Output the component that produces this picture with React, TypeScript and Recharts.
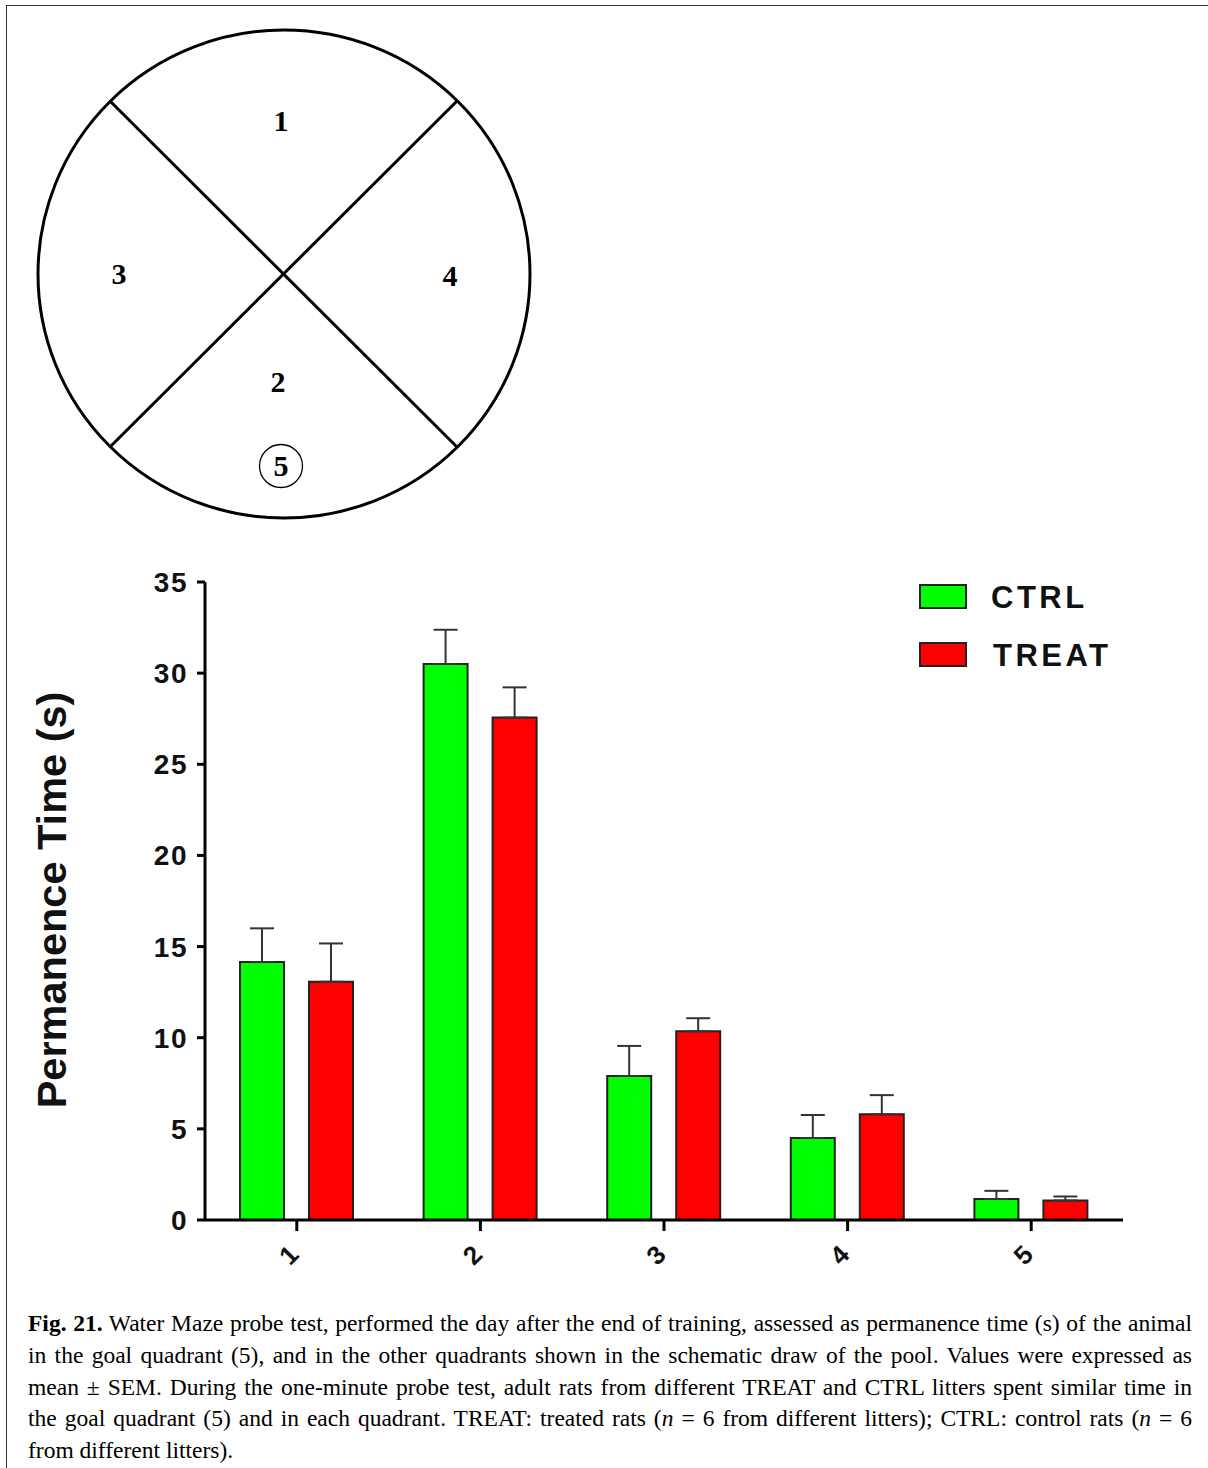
import React from 'react';
import { BarChart, Bar, XAxis, YAxis, ErrorBar, Legend } from 'recharts';

const quadrants = ['1', '2', '3', '4', '5'];
const ctrlMean = [14.15, 30.5, 7.9, 4.5, 1.15];
const ctrlSem = [1.85, 1.88, 1.65, 1.26, 0.45];
const treatMean = [13.07, 27.56, 10.35, 5.8, 1.07];
const treatSem = [2.1, 1.66, 0.72, 1.05, 0.22];
const yTicks = [0, 5, 10, 15, 20, 25, 30, 35];
const seriesNames = ['CTRL', 'TREAT'];
const seriesColors = ['#00ff00', '#ff0000'];
const yLabel = 'Permanence Time (s)';

const data = quadrants.map((q, i) => ({
  quadrant: q,
  CTRL: ctrlMean[i],
  TREAT: treatMean[i],
  ctrlErr: [0, ctrlSem[i]],
  treatErr: [0, treatSem[i]],
}));

const SANS = '"Liberation Sans", Arial, sans-serif';
const SERIF = '"Liberation Serif", "Times New Roman", serif';

const XTick = (props: any) => {
  const { x, y, payload } = props;
  const cx = x - 8;
  const cy = y + 22;
  return (
    <text
      x={cx}
      y={cy}
      transform={`rotate(-45 ${cx} ${cy})`}
      textAnchor="middle"
      dominantBaseline="central"
      fontFamily={SANS}
      fontWeight="bold"
      fontSize={26}
      fill="#111"
    >
      {payload.value}
    </text>
  );
};

const renderLegend = (props: any) => {
  const { payload } = props;
  return (
    <svg width={285} height={110} style={{ display: 'block', overflow: 'visible' }}>
      {(payload || []).map((entry: any, i: number) => (
        <g key={entry.value}>
          <rect x={2} y={1 + i * 58} width={46} height={23} fill={entry.color} stroke="#222" strokeWidth={2} />
          <text
            x={i === 0 ? 73 : 75}
            y={13 + i * 58}
            dominantBaseline="central"
            fontFamily={SANS}
            fontWeight="bold"
            fontSize={31}
            letterSpacing={3.5}
            fill="#111"
          >
            {entry.value}
          </text>
        </g>
      ))}
    </svg>
  );
};

const renderYLabel = (props: any) => {
  const { viewBox } = props;
  const cx = viewBox.x - 79;
  const cy = viewBox.y + viewBox.height / 2 - 1;
  return (
    <text
      x={cx}
      y={cy}
      transform={`rotate(-90 ${cx} ${cy})`}
      textAnchor="middle"
      fontFamily={SANS}
      fontWeight="bold"
      fontSize={41.5}
      fill="#111"
    >
      {yLabel}
    </text>
  );
};

const PoolDiagram = () => (
  <svg width={600} height={540} style={{ position: 'absolute', left: 0, top: 0 }}>
    <ellipse cx={284} cy={274} rx={246} ry={244} fill="none" stroke="#000" strokeWidth={3} />
    <line x1={110} y1={101} x2={457} y2={447} stroke="#000" strokeWidth={3} />
    <line x1={457} y1={101} x2={110} y2={447} stroke="#000" strokeWidth={3} />
    <g fontFamily={SERIF} fontWeight="bold" fontSize={30} fill="#000" textAnchor="middle">
      <text x={281} y={131}>1</text>
      <text x={119} y={284}>3</text>
      <text x={450} y={286}>4</text>
      <text x={278} y={392}>2</text>
      <text x={281} y={476}>5</text>
    </g>
    <circle cx={281} cy={466} r={21.5} fill="none" stroke="#000" strokeWidth={1.3} />
  </svg>
);

const captionLine = (content: React.ReactNode, justify: boolean) => (
  <div style={{ textAlign: justify ? 'justify' : 'left', textAlignLast: justify ? 'justify' : 'left' } as any}>
    {content}
  </div>
);

export default function App() {
  return (
    <div style={{ position: 'absolute', left: 0, top: 0, width: 1208, height: 1468, background: '#fff', overflow: 'hidden' }}>
      <div
        style={{
          position: 'absolute',
          left: 6,
          top: 5,
          width: 1210,
          height: 1470,
          borderTop: '1.5px solid #333',
          borderLeft: '1.5px solid #333',
        }}
      />
      <PoolDiagram />
      <div style={{ position: 'absolute', left: 0, top: 560 }}>
        <BarChart
          width={1208}
          height={720}
          data={data}
          margin={{ top: 22, right: 85, bottom: 10, left: 145 }}
          barSize={44}
          barGap={25}
        >
          <XAxis
            dataKey="quadrant"
            height={50}
            axisLine={{ stroke: '#000', strokeWidth: 3 }}
            tickLine={{ stroke: '#000', strokeWidth: 3 }}
            tickSize={11}
            tick={<XTick />}
            interval={0}
          />
          <YAxis
            width={60}
            domain={[0, 35]}
            ticks={yTicks}
            allowDataOverflow
            axisLine={{ stroke: '#000', strokeWidth: 3 }}
            tickLine={{ stroke: '#000', strokeWidth: 3 }}
            tickSize={8}
            tickMargin={9}
            tick={{ fontFamily: SANS, fontWeight: 'bold', fontSize: 28, fill: '#111', letterSpacing: 1.5 }}
            label={renderYLabel}
          />
          <Legend
            layout="vertical"
            align="center"
            verticalAlign="middle"
            content={renderLegend}
            wrapperStyle={{ position: 'absolute', left: 918, top: 24, width: 285, height: 110 }}
          />
          <Bar dataKey="CTRL" name={seriesNames[0]} fill={seriesColors[0]} stroke="#222" strokeWidth={2} isAnimationActive={false}>
            <ErrorBar dataKey="ctrlErr" direction="y" width={12} stroke="#333" strokeWidth={2} isAnimationActive={false} />
          </Bar>
          <Bar dataKey="TREAT" name={seriesNames[1]} fill={seriesColors[1]} stroke="#222" strokeWidth={2} isAnimationActive={false}>
            <ErrorBar dataKey="treatErr" direction="y" width={12} stroke="#333" strokeWidth={2} isAnimationActive={false} />
          </Bar>
        </BarChart>
      </div>
      <div
        style={{
          position: 'absolute',
          left: 28,
          top: 1308,
          width: 1164,
          fontFamily: SERIF,
          fontSize: 23.5,
          lineHeight: '31.75px',
          color: '#000',
        }}
      >
        {captionLine(
          <>
            <b>Fig. 21.</b> Water Maze probe test, performed the day after the end of training, assessed as permanence time (s) of the animal
          </>,
          true
        )}
        {captionLine(
          'in the goal quadrant (5), and in the other quadrants shown in the schematic draw of the pool. Values were expressed as',
          true
        )}
        {captionLine(
          'mean ± SEM. During the one-minute probe test, adult rats from different TREAT and CTRL litters spent similar time in',
          true
        )}
        {captionLine(
          <>
            the goal quadrant (5) and in each quadrant. TREAT: treated rats (<i>n</i> = 6 from different litters); CTRL: control rats (<i>n</i> = 6
          </>,
          true
        )}
        {captionLine('from different litters).', false)}
      </div>
    </div>
  );
}
